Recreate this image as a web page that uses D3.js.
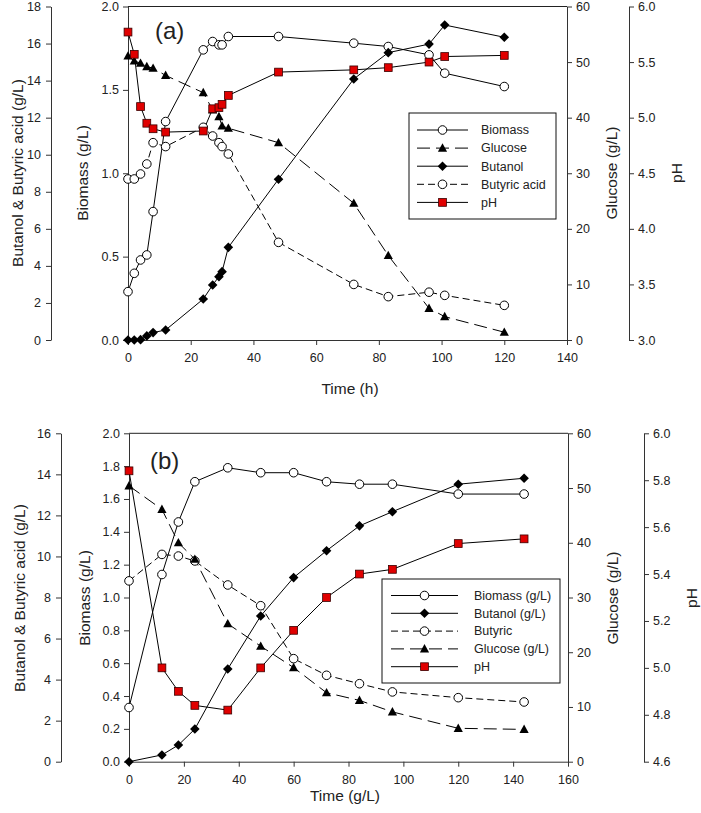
<!DOCTYPE html>
<html><head><meta charset="utf-8">
<script src="https://cdn.jsdelivr.net/npm/d3@7"></script>
<style>body{margin:0;background:#fff} svg text{font-family:Arial,"Liberation Sans",sans-serif;fill:#222}</style>
</head><body><svg id="c" width="701" height="813"></svg>
<script>
// ---------- Panel (a) data ----------
const timeA     = [0,2,4,6,8,12,24,27,29,30,32,48,72,83,96,101,120];
const biomassA  = [0.29,0.40,0.48,0.51,0.77,1.31,1.74,1.79,1.77,1.77,1.82,1.82,1.78,1.76,1.71,1.60,1.52];
const glucoseA  = [51.1,50.2,49.8,49.2,48.9,47.6,44.5,41.4,40.2,38.5,38.1,35.5,24.6,15.2,5.7,4.2,1.4];
const butanolA  = [0,0,0.02,0.22,0.40,0.54,2.21,2.97,3.42,3.69,5.0,8.68,14.09,15.51,15.97,17.0,16.34];
const butyricA  = [8.69,8.69,8.96,9.50,10.65,10.44,11.48,11.01,10.65,10.44,10.04,5.27,3.0,2.34,2.58,2.41,1.87];
const phA       = [5.77,5.57,5.10,4.95,4.90,4.87,4.88,5.08,5.09,5.12,5.20,5.41,5.43,5.45,5.50,5.55,5.56];
const legendA   = ["Biomass","Glucose","Butanol","Butyric acid","pH"];
const xTicksA   = [0,20,40,60,80,100,120,140];
const bioTicksA = [0,0.5,1.0,1.5,2.0];
const butTicksA = [0,2,4,6,8,10,12,14,16,18];
const gluTicksA = [0,10,20,30,40,50,60];
const phTicksA  = [3.0,3.5,4.0,4.5,5.0,5.5,6.0];

// ---------- Panel (b) data ----------
const timeB     = [0,12,18,24,36,48,60,72,84,96,120,144];
const biomassB  = [0.33,1.14,1.46,1.705,1.79,1.76,1.76,1.705,1.69,1.69,1.63,1.63];
const butanolB  = [0,0.33,0.81,1.59,4.52,7.10,8.97,10.28,11.49,12.18,13.52,13.81];
const butyricB  = [8.81,10.1,10.02,9.78,8.61,7.60,5.02,4.21,3.80,3.40,3.12,2.91];
const glucoseB  = [50.4,46.1,40.0,37.0,25.2,21.1,17.2,12.6,11.2,9.1,6.1,5.9];
const phB       = [5.84,5.00,4.90,4.84,4.82,5.00,5.16,5.30,5.40,5.42,5.53,5.55];
const legendB   = ["Biomass (g/L)","Butanol (g/L)","Butyric","Glucose (g/L)","pH"];
const xTicksB   = [0,20,40,60,80,100,120,140,160];
const bioTicksB = [0,0.2,0.4,0.6,0.8,1.0,1.2,1.4,1.6,1.8,2.0];
const butTicksB = [0,2,4,6,8,10,12,14,16];
const gluTicksB = [0,10,20,30,40,50,60];
const phTicksB  = [4.6,4.8,5.0,5.2,5.4,5.6,5.8,6.0];

const svg = d3.select("#c");
const RED = "#e00000";

function marker(g, type, cx, cy) {
  if (type === "circle") {
    g.append("circle").attr("cx",cx).attr("cy",cy).attr("r",4.3).attr("fill","#fff").attr("stroke","#000").attr("stroke-width",1);
  } else if (type === "diamond") {
    const r = 4.8;
    g.append("path").attr("d",`M${cx},${cy-r}L${cx+r},${cy}L${cx},${cy+r}L${cx-r},${cy}Z`).attr("fill","#000");
  } else if (type === "triangle") {
    g.append("path").attr("d",`M${cx},${cy-4.8}L${cx+4.6},${cy+3.6}L${cx-4.6},${cy+3.6}Z`).attr("fill","#000");
  } else if (type === "square") {
    g.append("rect").attr("x",cx-3.9).attr("y",cy-3.9).attr("width",7.8).attr("height",7.8).attr("fill",RED).attr("stroke","#3a0000").attr("stroke-width",0.8);
  }
}

function styleAxis(a) {
  a.selectAll("path,line").attr("stroke","#333").attr("stroke-width",1);
  a.selectAll("text").attr("font-size",12.5).attr("font-family","Arial, Liberation Sans, sans-serif").attr("fill","#222");
}

function panel(o) {
  const g = svg.append("g");
  const x = d3.scaleLinear().domain([o.xTicks[0], o.xTicks[o.xTicks.length-1]]).range([o.left, o.right]);
  const yBio = d3.scaleLinear().domain([o.bioTicks[0], o.bioTicks[o.bioTicks.length-1]]).range([o.bottom, o.top]);
  const yBut = d3.scaleLinear().domain([o.butTicks[0], o.butTicks[o.butTicks.length-1]]).range([o.bottom, o.top]);
  const yGlu = d3.scaleLinear().domain([o.gluTicks[0], o.gluTicks[o.gluTicks.length-1]]).range([o.bottom, o.top]);
  const yPh  = d3.scaleLinear().domain([o.phTicks[0], o.phTicks[o.phTicks.length-1]]).range([o.bottom, o.top]);

  g.append("line").attr("x1",o.left).attr("x2",o.right).attr("y1",o.top).attr("y2",o.top).attr("stroke","#222");

  styleAxis(g.append("g").attr("transform",`translate(0,${o.bottom})`)
    .call(d3.axisBottom(x).tickValues(o.xTicks).tickFormat(d3.format("d")).tickSize(5).tickSizeOuter(0).tickPadding(8)));
  styleAxis(g.append("g").attr("transform",`translate(${o.left},0)`)
    .call(d3.axisLeft(yBio).tickValues(o.bioTicks).tickFormat(d3.format(".1f")).tickSize(5).tickSizeOuter(0).tickPadding(4)));
  styleAxis(g.append("g").attr("transform",`translate(${o.butX},0)`)
    .call(d3.axisLeft(yBut).tickValues(o.butTicks).tickFormat(d3.format("d")).tickSize(5).tickSizeOuter(0).tickPadding(5)));
  styleAxis(g.append("g").attr("transform",`translate(${o.right},0)`)
    .call(d3.axisRight(yGlu).tickValues(o.gluTicks).tickFormat(d3.format("d")).tickSize(5).tickSizeOuter(0).tickPadding(4)));
  styleAxis(g.append("g").attr("transform",`translate(${o.phX},0)`)
    .call(d3.axisRight(yPh).tickValues(o.phTicks).tickFormat(d3.format(".1f")).tickSize(5).tickSizeOuter(0).tickPadding(4)));

  // titles
  const vt = (tx, ty, s) => g.append("text").attr("transform",`translate(${tx},${ty}) rotate(-90)`)
      .attr("text-anchor","middle").attr("font-size",15.5).text(s);
  vt(o.butTitleX, o.midY, "Butanol & Butyric acid (g/L)");
  vt(o.bioTitleX, o.midY, "Biomass (g/L)");
  vt(o.gluTitleX, o.midY, "Glucose (g/L)");
  vt(o.phTitleX, o.midY, "pH");
  g.append("text").attr("x",o.xTitleX).attr("y",o.xTitleY).attr("text-anchor","middle").attr("font-size",15.5).text(o.xTitle);
  g.append("text").attr("x",o.tagX).attr("y",o.tagY).attr("font-size",24).text(o.tag);

  const series = o.series.map(s => ({...s, y: {bio:yBio, but:yBut, glu:yGlu, ph:yPh}[s.axis]}));
  series.forEach(s => {
    const line = d3.line().x(d => x(d[0])).y(d => s.y(d[1]));
    g.append("path").attr("d", line(o.time.map((t,i)=>[t,s.values[i]])))
      .attr("fill","none").attr("stroke","#000").attr("stroke-width",1)
      .attr("stroke-dasharray", s.dash || null);
  });
  series.forEach(s => {
    const mg = g.append("g");
    o.time.forEach((t,i) => marker(mg, s.marker, x(t), s.y(s.values[i])));
  });

  // legend
  const L = o.legend;
  g.append("rect").attr("x",L.x).attr("y",L.y).attr("width",L.w).attr("height",L.h)
    .attr("fill","#fff").attr("stroke","#111").attr("stroke-width",1);
  L.order.forEach((idx, r) => {
    const s = series[idx];
    const yy = L.y + L.first + r*L.step;
    g.append("line").attr("x1",L.lx1).attr("x2",L.lx2).attr("y1",yy).attr("y2",yy)
      .attr("stroke","#000").attr("stroke-width",1).attr("stroke-dasharray", s.dash || null);
    marker(g, s.marker, (L.lx1+L.lx2)/2, yy);
    g.append("text").attr("x",L.tx).attr("y",yy).attr("dy","0.35em").attr("font-size",12.5).text(L.labels[r]);
  });
}

panel({
  left:128, right:567, top:6.5, bottom:340, butX:51, phX:629,
  xTicks:xTicksA, bioTicks:bioTicksA, butTicks:butTicksA, gluTicks:gluTicksA, phTicks:phTicksA,
  butTitleX:23, bioTitleX:88, gluTitleX:617, phTitleX:682, midY:173,
  xTitle:"Time (h)", xTitleX:350, xTitleY:394, tag:"(a)", tagX:155, tagY:39,
  time: timeA,
  series: [
    {values:biomassA, axis:"bio", marker:"circle"},
    {values:glucoseA, axis:"glu", marker:"triangle", dash:"13,6"},
    {values:butanolA, axis:"but", marker:"diamond"},
    {values:butyricA, axis:"but", marker:"circle", dash:"7,4"},
    {values:phA, axis:"ph", marker:"square"}
  ],
  legend:{x:409,y:113,w:147,h:106,first:17,step:18.1,lx1:417,lx2:468,tx:481,order:[0,1,2,3,4],labels:legendA}
});

panel({
  left:129, right:568, top:433.3, bottom:761.7, butX:61, phX:644,
  xTicks:xTicksB, bioTicks:bioTicksB, butTicks:butTicksB, gluTicks:gluTicksB, phTicks:phTicksB,
  butTitleX:25, bioTitleX:90, gluTitleX:618, phTitleX:697, midY:598,
  xTitle:"Time (g/L)", xTitleX:345, xTitleY:801, tag:"(b)", tagX:150, tagY:469,
  time: timeB,
  series: [
    {values:biomassB, axis:"bio", marker:"circle"},
    {values:butanolB, axis:"but", marker:"diamond"},
    {values:butyricB, axis:"but", marker:"circle", dash:"7,4"},
    {values:glucoseB, axis:"glu", marker:"triangle", dash:"13,6"},
    {values:phB, axis:"ph", marker:"square"}
  ],
  legend:{x:382,y:579,w:178,h:104,first:16.5,step:17.8,lx1:391,lx2:458,tx:474,order:[0,1,2,3,4],labels:legendB}
});
</script></body></html>
